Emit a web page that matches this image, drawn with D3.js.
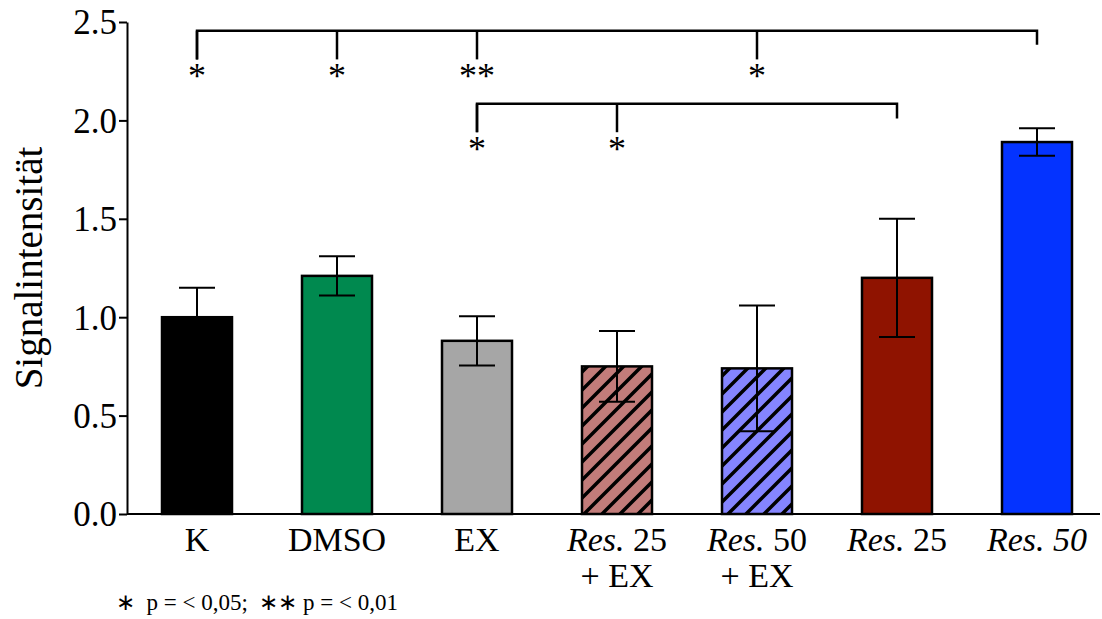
<!DOCTYPE html>
<html>
<head>
  <meta charset="UTF-8">
  <title>Signalintensität</title>
  <script src="https://cdn.jsdelivr.net/npm/d3@7"></script>
  <style>
    body { margin: 0; background: #fff; }
    text { font-family: "Liberation Serif", "Times New Roman", serif; fill: #000; }
  </style>
</head>
<body>

<div class="chart"></div>

<script>

  // data
  var categories = [['K'], ['DMSO'], ['EX'], ['Res. 25', '+ EX'], ['Res. 50', '+ EX'], ['Res. 25'], ['Res. 50']];
  var allItalic  = [false, false, false, false, false, false, true];
  var values     = [1.00, 1.21, 0.88, 0.75, 0.74, 1.20, 1.89];
  var errors     = [0.15, 0.10, 0.125, 0.18, 0.32, 0.30, 0.07];
  var colors     = ['#000000', '#00894f', '#a6a6a6', '#c27c7a', '#8585ff', '#8f1300', '#0433ff'];
  var hatched    = [false, false, false, true, true, false, false];
  var yTicks     = [0, 0.5, 1.0, 1.5, 2.0, 2.5];

  // significance brackets (category indices, values in y units)
  var bracketTop    = { y: 2.455, drop: 2.385, tickEnd: 2.31, from: 0, to: 6, marks: [0, 1, 2, 4], stars: ['*', '*', '**', '*'], starY: 2.165 };
  var bracketBottom = { y: 2.085, drop: 2.01, tickEnd: 1.94, from: 2, to: 5, marks: [2, 3], stars: ['*', '*'], starY: 1.795 };

  var W = 1102, H = 619;
  var m = { left: 127, right: 1107, top: 22, bottom: 514 };

  var svg = d3.select('.chart')
    .append('svg')
      .attr('width', W)
      .attr('height', H);

  var x = d3.scaleBand()
    .domain(d3.range(categories.length))
    .range([m.left, m.right])
    .paddingInner(0.5)
    .paddingOuter(0.25);

  var y = d3.scaleLinear()
    .domain([0, 2.5])
    .range([m.bottom, m.top]);

  // hatch patterns
  var defs = svg.append('defs');
  colors.forEach((c, i) => {
    if (!hatched[i]) return;
    var p = defs.append('pattern')
      .attr('id', 'hatch' + i)
      .attr('patternUnits', 'userSpaceOnUse')
      .attr('width', 18)
      .attr('height', 18);
    p.append('rect').attr('width', 18).attr('height', 18).attr('fill', c);
    p.append('path')
      .attr('d', 'M-4.5,4.5L4.5,-4.5M0,18L18,0M13.5,22.5L22.5,13.5')
      .attr('stroke', '#000')
      .attr('stroke-width', 3.5);
  });

  // bars
  svg.selectAll('.bar')
    .data(values)
    .enter()
    .append('rect')
      .attr('class', 'bar')
      .attr('x', (d, i) => x(i))
      .attr('y', d => y(d))
      .attr('width', x.bandwidth())
      .attr('height', d => y(0) - y(d))
      .attr('fill', (d, i) => hatched[i] ? 'url(#hatch' + i + ')' : colors[i])
      .attr('stroke', '#000')
      .attr('stroke-width', 2.5);

  // error bars
  var cap = 18;
  var eb = svg.selectAll('.err')
    .data(values)
    .enter()
    .append('g')
      .attr('class', 'err')
      .attr('stroke', '#000')
      .attr('stroke-width', 2);
  eb.append('line')
    .attr('x1', (d, i) => x(i) + x.bandwidth() / 2)
    .attr('x2', (d, i) => x(i) + x.bandwidth() / 2)
    .attr('y1', (d, i) => y(d - errors[i]))
    .attr('y2', (d, i) => y(d + errors[i]));
  eb.append('line')
    .attr('x1', (d, i) => x(i) + x.bandwidth() / 2 - cap)
    .attr('x2', (d, i) => x(i) + x.bandwidth() / 2 + cap)
    .attr('y1', (d, i) => y(d + errors[i]))
    .attr('y2', (d, i) => y(d + errors[i]));
  eb.append('line')
    .attr('x1', (d, i) => x(i) + x.bandwidth() / 2 - cap)
    .attr('x2', (d, i) => x(i) + x.bandwidth() / 2 + cap)
    .attr('y1', (d, i) => y(d - errors[i]))
    .attr('y2', (d, i) => y(d - errors[i]));

  // y axis
  var yAxis = svg.append('g')
    .attr('transform', `translate(${m.left}, 0)`)
    .call(d3.axisLeft(y).tickValues(yTicks).tickFormat(d3.format('.1f')).tickSize(8).tickSizeOuter(0));
  yAxis.select('.domain').attr('stroke-width', 2);
  yAxis.selectAll('.tick line').attr('stroke-width', 2);
  yAxis.selectAll('.tick text')
    .attr('x', -10)
    .attr('dy', '0.34em')
    .style('font-family', '"Liberation Serif", serif')
    .style('font-size', '35px');

  // x axis baseline
  svg.append('line')
    .attr('x1', m.left).attr('x2', 1100)
    .attr('y1', y(0)).attr('y2', y(0))
    .attr('stroke', '#000')
    .attr('stroke-width', 2);

  // category labels
  categories.forEach((lines, i) => {
    var t = svg.append('text')
      .attr('text-anchor', 'middle')
      .style('font-size', '34px');
    lines.forEach((ln, j) => {
      var cx = x(i) + x.bandwidth() / 2;
      var yy = 551 + j * 36;
      if (ln.indexOf('Res.') === 0) {
        t.append('tspan').attr('x', cx).attr('y', yy).style('font-style', 'italic').text('Res.');
        t.append('tspan').style('font-style', allItalic[i] ? 'italic' : 'normal').text(ln.slice(4));
      } else {
        t.append('tspan').attr('x', cx).attr('y', yy).text(ln);
      }
    });
  });

  // y label
  svg.append('text')
    .attr('transform', 'translate(42, 268) rotate(-90)')
    .attr('text-anchor', 'middle')
    .style('font-size', '39px')
    .text('Signalintensität');

  // brackets
  function drawBracket(b) {
    var cx = i => x(i) + x.bandwidth() / 2;
    var g = svg.append('g').attr('stroke', '#000').attr('stroke-width', 2.5).attr('fill', 'none');
    g.append('path')
      .attr('d', `M${cx(b.from)},${y(b.tickEnd)}V${y(b.y)}H${cx(b.to)}V${y(b.drop)}`);
    b.marks.forEach(k => {
      g.append('line')
        .attr('x1', cx(k)).attr('x2', cx(k))
        .attr('y1', y(b.y)).attr('y2', y(b.tickEnd));
    });
    b.marks.forEach((k, n) => {
      svg.append('text')
        .attr('x', cx(k))
        .attr('y', y(b.starY))
        .attr('text-anchor', 'middle')
        .style('font-size', '36px')
        .text(b.stars[n]);
    });
  }
  drawBracket(bracketTop);
  drawBracket(bracketBottom);

  // footnote
  svg.append('text')
    .attr('x', 116)
    .attr('y', 610)
    .style('font-size', '23px')
    .style('white-space', 'pre')
    .text('\u2217  p = < 0,05;  \u2217\u2217 p = < 0,01');

</script>

</body>
</html>
